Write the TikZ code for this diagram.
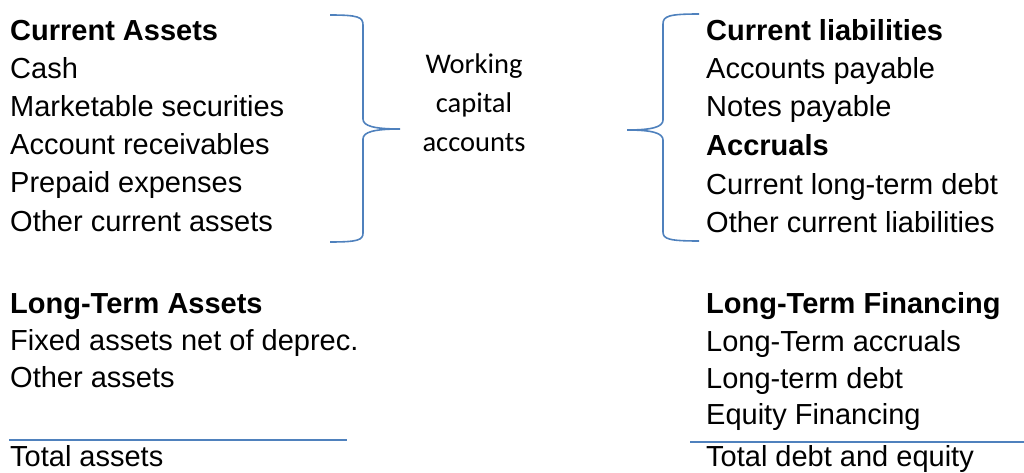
\documentclass[tikz,border=0pt]{standalone}
\usepackage{fontspec}
\setmainfont{Liberation Sans}
\newfontfamily\calibfont{Carlito}
\definecolor{bracecol}{HTML}{4F81BD}
\begin{document}
\begin{tikzpicture}[x=1pt,y=-1pt,
  txt/.style={anchor=base west,inner sep=0pt,font=\fontsize{29}{38}\selectfont},
  hdr/.style={txt,font=\fontsize{29}{38}\selectfont\bfseries},
  mid/.style={anchor=base,inner sep=0pt,font=\calibfont\fontsize{28.5}{38}\selectfont},
  blueline/.style={draw=bracecol,line width=1.8pt},
  bracestyle/.style={draw=bracecol,line width=1.6pt}]
\useasboundingbox (0,0) rectangle (1024,473);
% left column
\node[hdr] (ca) at (10,41) {Current Assets};
\node[txt] (cash) at (10,79) {Cash};
\node[txt] (ms) at (10,117) {Marketable securities};
\node[txt] (ar) at (10,155) {Account receivables};
\node[txt] (pe) at (10,193) {Prepaid expenses};
\node[txt] (oca) at (10,231) {Other current assets};
\node[hdr] (lta) at (10,313) {Long-Term Assets};
\node[txt] (fa) at (10,350) {Fixed assets net of deprec.};
\node[txt] (oa) at (10,387) {Other assets};
\node[txt] (ta) at (10,466) {Total assets};
% right column
\node[hdr] (cl) at (706,41) {Current liabilities};
\node[txt] (ap) at (706,79) {Accounts payable};
\node[txt] (np) at (706,117) {Notes payable};
\node[hdr] (acc) at (706,156) {Accruals};
\node[txt] (cltd) at (706,194) {Current long-term debt};
\node[txt] (ocl) at (706,232) {Other current liabilities};
\node[hdr] (ltf) at (706,313) {Long-Term Financing};
\node[txt] (lta2) at (706,351) {Long-Term accruals};
\node[txt] (ltd) at (706,388) {Long-term debt};
\node[txt] (ef) at (706,424) {Equity Financing};
\node[txt] (tde) at (706,466) {Total debt and equity};
% middle
\node[mid] (w1) at (474,74) {Working};
\node[mid] (w2) at (474,113) {capital};
\node[mid] (w3) at (474,152) {accounts};
% total lines
\coordinate (l1a) at (9,440);
\coordinate (l1b) at (347,440);
\coordinate (l2a) at (690,442);
\coordinate (l2b) at (1024,442);
\draw[blueline] (l1a) -- (l1b);
\draw[blueline] (l2a) -- (l2b);
% left brace
\coordinate (lbt) at (330,15);
\coordinate (lbtip) at (400,129);
\coordinate (lbb) at (330,242);
\draw[bracestyle] (lbt) .. controls (358,15) and (363,17) .. (363,25)
  -- (363,119) .. controls (363,126) and (374,129) .. (lbtip)
  .. controls (374,129) and (363,132) .. (363,139)
  -- (363,233) .. controls (363,240) and (358,242) .. (lbb);
% right brace
\coordinate (rbt) at (699,14);
\coordinate (rbtip) at (627,130);
\coordinate (rbb) at (699,241);
\draw[bracestyle] (rbt) .. controls (669,14) and (663,16) .. (663,24)
  -- (663,120) .. controls (663,127) and (652,130) .. (rbtip)
  .. controls (652,130) and (663,133) .. (663,140)
  -- (663,232) .. controls (663,239) and (669,241) .. (rbb);
\end{tikzpicture}
\end{document}
